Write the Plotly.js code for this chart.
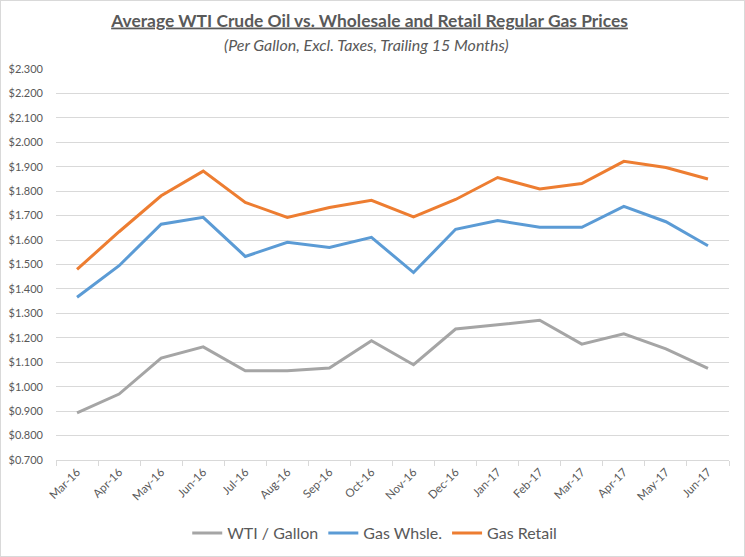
<!DOCTYPE html>
<html>
<head>
<meta charset="utf-8">
<script src="https://cdn.plot.ly/plotly-3.0.1.min.js"></script>
<style>
html,body{margin:0;padding:0;background:#fff;}
#wrap{position:relative;width:745px;height:557px;}
#chart{width:745px;height:557px;}
#frame{position:absolute;left:0;top:0;width:745px;height:557px;box-sizing:border-box;border:1px solid #d9d9d9;pointer-events:none;}
</style>
</head>
<body>
<div id="wrap"><div id="chart"></div><div id="frame"></div></div>
<script>
const months = ["Mar-16","Apr-16","May-16","Jun-16","Jul-16","Aug-16","Sep-16","Oct-16","Nov-16","Dec-16","Jan-17","Feb-17","Mar-17","Apr-17","May-17","Jun-17"];
const wtiPerGallon = [0.893,0.970,1.117,1.163,1.065,1.065,1.076,1.188,1.090,1.236,1.253,1.272,1.174,1.216,1.155,1.075];
const gasWholesale = [1.366,1.495,1.665,1.693,1.533,1.591,1.570,1.611,1.467,1.644,1.680,1.652,1.652,1.738,1.675,1.577];
const gasRetail = [1.480,1.634,1.781,1.882,1.754,1.693,1.733,1.763,1.695,1.766,1.856,1.809,1.831,1.922,1.897,1.850];
const seriesNames = ["WTI / Gallon","Gas Whsle.","Gas Retail"];
const titleText = "Average WTI Crude Oil vs. Wholesale and Retail Regular Gas Prices";
const subtitleText = "(Per Gallon, Excl. Taxes, Trailing 15 Months)";

const FONT = "Lato, 'Open Sans', sans-serif";
const TXT = "#595959";
const colors = ["#a5a5a5","#5b9bd5","#ed7d31"];
const series = [wtiPerGallon, gasWholesale, gasRetail];

const traces = series.map((vals,i)=>({
  x: months, y: vals, type: "scatter", mode: "lines", name: seriesNames[i],
  line: {color: colors[i], width: 3}, hoverinfo: "x+y"
}));

const layout = {
  width: 745, height: 557,
  margin: {l: 56, r: 16, t: 68.5, b: 96.5},
  paper_bgcolor: "#fff", plot_bgcolor: "#fff",
  font: {family: FONT, color: TXT, size: 12},
  showlegend: true,
  title: {
    text: '<b><span style="text-decoration:underline">' + titleText + '</span></b>',
    font: {family: FONT, size: 17.4, color: TXT},
    x: 0.496, xanchor: "center", xref: "container",
    y: 1 - 20.5/557, yanchor: "middle", yref: "container"
  },
  annotations: [{
    text: "<i>" + subtitleText + "</i>", showarrow: false,
    xref: "paper", yref: "paper",
    x: (366-56)/(745-56-16), y: 1 + (68.5-44)/(557-68.5-96.5),
    xanchor: "center", yanchor: "middle",
    font: {family: FONT, size: 16, color: TXT}
  }],
  xaxis: {
    type: "category", tickangle: -45,
    showgrid: false, showline: true, linecolor: "#d9d9d9", linewidth: 1,
    ticks: "outside", tickson: "boundaries", ticklen: 5, tickcolor: "#d9d9d9",
    tickfont: {family: FONT, size: 11.5, color: TXT},
    range: [-0.5, 15.5], zeroline: false
  },
  yaxis: {
    range: [0.7, 2.3], dtick: 0.1, tick0: 0.7, tickformat: "$.3f",
    showgrid: true, gridcolor: "#d9d9d9", gridwidth: 1,
    showline: false, zeroline: false, ticks: "", ticklen: 0,
    ticklabelstandoff: 12,
    tickfont: {family: FONT, size: 11, color: TXT}
  },
  legend: {
    orientation: "h", xref: "container", yref: "container",
    x: 0.503, xanchor: "center", y: 1 - 533/557, yanchor: "middle",
    font: {family: FONT, size: 16, color: TXT},
    itemwidth: 30, traceorder: "normal", bgcolor: "rgba(0,0,0,0)"
  }
};

Plotly.newPlot("chart", traces, layout, {displayModeBar: false, staticPlot: true});
</script>
</body>
</html>
